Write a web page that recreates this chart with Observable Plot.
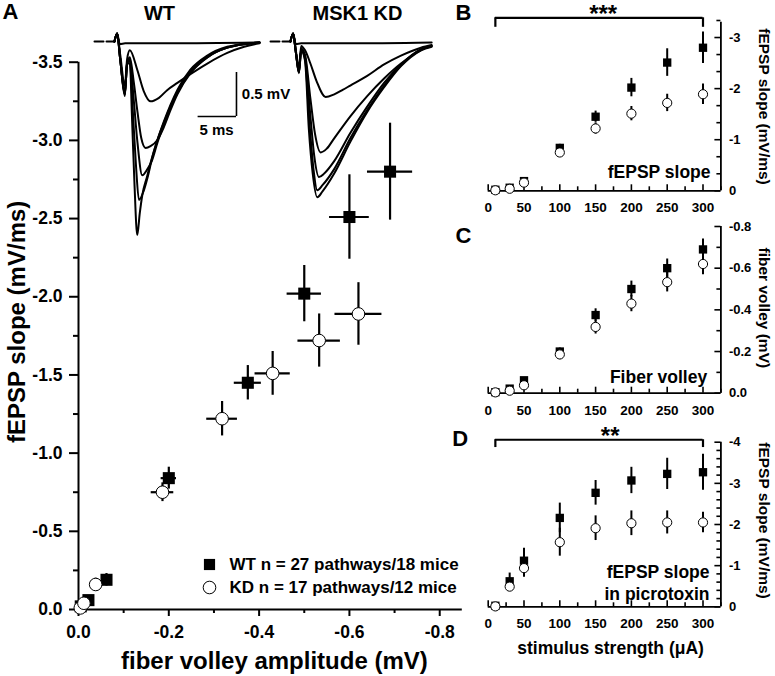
<!DOCTYPE html>
<html><head><meta charset="utf-8">
<script src="https://cdn.jsdelivr.net/npm/d3@7"></script>
<script src="https://cdn.jsdelivr.net/npm/@observablehq/plot@0.6"></script>
<style>
body{margin:0;background:#fff;}
#fig{position:relative;width:775px;height:676px;overflow:hidden;background:#fff;}
.pn{position:absolute;}
</style></head><body><div id="fig"></div>
<script>
// ---------- data ----------
const stimulus = [10, 30, 50, 100, 150, 200, 250, 300];
const slopeWT = [-0.02, -0.06, -0.19, -0.84, -1.45, -2.02, -2.51, -2.80];
const slopeWTsem = [0.01, 0.02, 0.04, 0.07, 0.11, 0.18, 0.27, 0.31];
const slopeKD = [-0.01, -0.04, -0.16, -0.75, -1.22, -1.51, -1.72, -1.89];
const slopeKDsem = [0.01, 0.02, 0.04, 0.06, 0.11, 0.14, 0.17, 0.20];
const fvWT = [-0.005, -0.022, -0.062, -0.20, -0.375, -0.50, -0.60, -0.69];
const fvWTsem = [0.003, 0.008, 0.010, 0.017, 0.030, 0.038, 0.044, 0.050];
const fvKD = [-0.004, -0.012, -0.038, -0.186, -0.318, -0.43, -0.533, -0.62];
const fvKDsem = [0.003, 0.006, 0.012, 0.025, 0.034, 0.039, 0.047, 0.052];
const ptxWT = [-0.025, -0.62, -1.12, -2.16, -2.77, -3.07, -3.23, -3.27];
const ptxWTsem = [0.02, 0.20, 0.30, 0.36, 0.30, 0.32, 0.38, 0.44];
const ptxKD = [-0.01, -0.49, -0.94, -1.57, -1.91, -2.03, -2.05, -2.05];
const ptxKDsem = [0.01, 0.08, 0.22, 0.34, 0.30, 0.30, 0.28, 0.25];

const legendLabels = ["WT n = 27 pathways/18 mice", "KD n = 17 pathways/12 mice"];
const aXTicks = [0, -0.2, -0.4, -0.6, -0.8];
const aXMinor = [-0.1, -0.3, -0.5, -0.7];
const aYTicks = [0, -0.5, -1.0, -1.5, -2.0, -2.5, -3.0, -3.5];
const aYMinor = [-0.25, -0.75, -1.25, -1.75, -2.25, -2.75, -3.25];
const stimTicks = [0, 50, 100, 150, 200, 250, 300];
const stimMinor = [25, 75, 125, 175, 225, 275, 325];
const bTicks = [0, -1, -2, -3];
const bMinor = [-1/3, -2/3, -4/3, -5/3, -7/3, -8/3, -10/3];
const cTicks = [0, -0.2, -0.4, -0.6, -0.8];
const cMinor = [-0.1, -0.3, -0.5, -0.7];
const dTicks = [0, -1, -2, -3, -4];
const dMinor = [-0.2,-0.4,-0.6,-0.8,-1.2,-1.4,-1.6,-1.8,-2.2,-2.4,-2.6,-2.8,-3.2,-3.4,-3.6,-3.8];
const sigB = {from: 10, to: 300, label: "***"};
const sigD = {from: 10, to: 300, label: "**"};

// example fEPSP traces (time ms, voltage mV)
const traceGroups = ["WT", "KD"];
const preStim = [[0, 0], [2.6, 0]];
const wtTraces = [
  [[2.6,0],[2.95,0.09],[3.3,-0.03],[4,-0.02],[10,-0.02],[21.5,-0.01]],
  [[2.6,0],[2.95,0.09],[3.35,-0.15],[3.95,-0.5],[4.25,-0.2],[4.6,-0.1],[5.6,-0.33],[6.4,-0.56],[7.3,-0.68],[8.4,-0.64],[9.5,-0.55],[10.8,-0.47],[12.5,-0.37],[14.7,-0.25],[17.3,-0.13],[19.5,-0.06],[21.5,-0.02]],
  [[2.6,0],[2.95,0.09],[3.35,-0.2],[3.95,-0.58],[4.25,-0.25],[4.6,-0.18],[5.1,-0.45],[5.6,-0.8],[6.1,-1.1],[6.66,-1.21],[7.3,-1.19],[8.2,-1.12],[9.0,-0.98],[9.9,-0.78],[10.8,-0.6],[12.5,-0.36],[14.7,-0.18],[17.3,-0.07],[21.5,-0.01]],
  [[2.6,0],[2.95,0.09],[3.35,-0.2],[3.95,-0.6],[4.25,-0.25],[4.6,-0.2],[5.1,-0.65],[5.6,-1.15],[6.22,-1.52],[6.9,-1.45],[7.5,-1.35],[8.2,-1.15],[9.0,-0.95],[9.9,-0.74],[10.8,-0.57],[12.5,-0.34],[14.7,-0.17],[17.3,-0.07],[21.5,-0.01]],
  [[2.6,0],[2.95,0.09],[3.35,-0.2],[3.95,-0.6],[4.25,-0.25],[4.6,-0.22],[5.0,-0.8],[5.4,-1.4],[5.79,-1.8],[6.4,-1.7],[6.9,-1.55],[7.5,-1.33],[8.2,-1.12],[9.0,-0.92],[9.9,-0.72],[10.8,-0.55],[12.5,-0.32],[14.7,-0.16],[17.3,-0.06],[21.5,-0.01]],
  [[2.6,0],[2.95,0.09],[3.35,-0.2],[3.95,-0.62],[4.25,-0.25],[4.6,-0.25],[4.9,-0.9],[5.2,-1.6],[5.57,-2.2],[5.9,-1.95],[6.22,-1.75],[6.9,-1.52],[7.3,-1.38],[8.2,-1.12],[9.05,-0.92],[9.9,-0.74],[11.2,-0.52],[12.5,-0.35],[14.7,-0.18],[17.3,-0.07],[19.1,-0.035],[21.5,-0.01]]
];
const kdTraces = [
  [[2.6,0],[2.95,0.09],[3.3,-0.03],[4,-0.02],[10,-0.02],[21,-0.01]],
  [[2.6,0],[2.95,0.09],[3.3,-0.1],[3.7,-0.3],[4.0,-0.05],[4.5,-0.1],[5.2,-0.25],[6.0,-0.45],[7.18,-0.63],[8.3,-0.6],[9.4,-0.55],[10.4,-0.5],[12.6,-0.39],[14.8,-0.26],[17.0,-0.16],[19.6,-0.07],[21.0,-0.04]],
  [[2.6,0],[2.95,0.09],[3.3,-0.12],[3.7,-0.33],[4.0,-0.08],[4.5,-0.15],[5.2,-0.65],[5.8,-1.05],[6.53,-1.26],[7.3,-1.22],[8.3,-1.1],[10.4,-0.85],[12.6,-0.62],[14.8,-0.42],[17.0,-0.25],[19.6,-0.1],[21,-0.06]],
  [[2.6,0],[2.95,0.09],[3.3,-0.12],[3.7,-0.35],[4.0,-0.1],[4.5,-0.18],[5.2,-0.85],[5.7,-1.3],[6.31,-1.54],[7.0,-1.5],[8.3,-1.36],[10.4,-1.04],[12.6,-0.74],[14.8,-0.47],[17,-0.26],[19.6,-0.09],[21,-0.05]],
  [[2.6,0],[2.95,0.09],[3.3,-0.12],[3.7,-0.35],[4.0,-0.1],[4.5,-0.2],[5.1,-0.95],[5.6,-1.45],[6.09,-1.69],[6.8,-1.63],[8.3,-1.45],[10.4,-1.1],[12.6,-0.78],[14.8,-0.5],[17,-0.27],[19.6,-0.09],[21,-0.05]],
  [[2.6,0],[2.95,0.09],[3.3,-0.12],[3.7,-0.36],[4.0,-0.1],[4.5,-0.22],[5.0,-1.0],[5.5,-1.5],[6.09,-1.77],[6.8,-1.7],[8.3,-1.5],[10.4,-1.14],[12.6,-0.8],[14.8,-0.52],[17,-0.28],[19.6,-0.1],[21,-0.05]]
];
const scaleBar = {ms: 5, mV: 0.5};

// ---------- helpers ----------
const fig = document.getElementById("fig");
const FONT = '"Liberation Sans", Arial, Helvetica, sans-serif';
const STYLE = `background:transparent;overflow:visible;font-family:${FONT};font-weight:bold;color:black;max-width:none;`;
function place(svg, left, top) {
  const d = document.createElement("div");
  d.className = "pn"; d.style.left = left + "px"; d.style.top = top + "px";
  d.appendChild(svg); fig.appendChild(d);
}
const rows = (xs, xe, ys, ye) => stimulus.map((s, i) => ({s, x: xs ? xs[i] : s, xe: xe ? xe[i] : 0, y: ys[i], ye: ye[i]}));

// ---------- panel A ----------
const aWT = rows(fvWT, fvWTsem, slopeWT, slopeWTsem);
const aKD = rows(fvKD, fvKDsem, slopeKD, slopeKDsem);
const fmt1 = d => d.toFixed(1);
const panelA = Plot.plot({
  width: 470, height: 676,
  marginLeft: 78, marginRight: 8.2, marginTop: 61.7, marginBottom: 67,
  x: {domain: [0, -0.85], axis: null},
  y: {domain: [0, -3.5], axis: null},
  style: STYLE,
  marks: [
    Plot.ruleX([0], {strokeWidth: 2}),
    Plot.ruleY([0], {strokeWidth: 2}),
    Plot.ruleY(aYTicks, {y: d => d, x1: 0, x2: 0, insetLeft: -9, strokeWidth: 2}),
    Plot.ruleY(aYMinor, {y: d => d, x1: 0, x2: 0, insetLeft: -5, strokeWidth: 2}),
    Plot.ruleX(aXTicks, {x: d => d, y1: 0, y2: 0, insetBottom: -7, strokeWidth: 2}),
    Plot.ruleX(aXMinor, {x: d => d, y1: 0, y2: 0, insetBottom: -4, strokeWidth: 2}),
    Plot.axisX({ticks: aXTicks, tickSize: 0, tickPadding: 16, tickFormat: fmt1, fontSize: 17.5, label: null}),
    Plot.axisY({ticks: aYTicks, tickSize: 0, tickPadding: 16, tickFormat: fmt1, fontSize: 17.5, label: null}),
    Plot.ruleX(aWT, {x: "x", y1: d => d.y - d.ye, y2: d => d.y + d.ye, strokeWidth: 2.2}),
    Plot.ruleY(aWT, {y: "y", x1: d => d.x - d.xe, x2: d => d.x + d.xe, strokeWidth: 2.2}),
    Plot.dot(aWT, {x: "x", y: "y", symbol: "square", r: 6.8, fill: "black"}),
    Plot.ruleX(aKD, {x: "x", y1: d => d.y - d.ye, y2: d => d.y + d.ye, strokeWidth: 2.2}),
    Plot.ruleY(aKD, {y: "y", x1: d => d.x - d.xe, x2: d => d.x + d.xe, strokeWidth: 2.2}),
    Plot.dot(aKD, {x: "x", y: "y", symbol: "circle", r: 6.3, fill: "white", stroke: "black", strokeWidth: 1}),
    // legend
    Plot.dot([legendLabels[0]], {frameAnchor: "bottom-left", dx: 131, dy: -45, symbol: "square", r: 6.3, fill: "black"}),
    Plot.dot([legendLabels[1]], {frameAnchor: "bottom-left", dx: 131, dy: -22, symbol: "circle", r: 6.3, fill: "white", stroke: "black", strokeWidth: 1}),
    Plot.text([legendLabels[0]], {frameAnchor: "bottom-left", dx: 151, dy: -45, textAnchor: "start", lineAnchor: "middle", fontSize: 17}),
    Plot.text([legendLabels[1]], {frameAnchor: "bottom-left", dx: 151, dy: -22, textAnchor: "start", lineAnchor: "middle", fontSize: 17}),
    // axis labels
    Plot.text(["fEPSP slope (mV/ms)"], {frameAnchor: "left", dx: -61, dy: -14, rotate: -90, textAnchor: "middle", lineAnchor: "middle", fontSize: 24}),
    Plot.text(["fiber volley amplitude (mV)"], {frameAnchor: "bottom", dx: 4, dy: 52, textAnchor: "middle", lineAnchor: "middle", fontSize: 24}),
    // titles
    Plot.text(["A"], {frameAnchor: "top-left", dx: -76, dy: -58.7, textAnchor: "start", lineAnchor: "top", fontSize: 22}),
    Plot.text(["WT"], {frameAnchor: "top-left", dx: 81, dy: -56.7, textAnchor: "middle", lineAnchor: "top", fontSize: 20}),
    Plot.text(["MSK1 KD"], {frameAnchor: "top-left", dx: 279, dy: -56.7, textAnchor: "middle", lineAnchor: "top", fontSize: 20})
  ]
});
place(panelA, 0, 0);

// ---------- inset traces ----------
const traceRows = [];
[["WT", wtTraces], ["KD", kdTraces]].forEach(([g, trs]) =>
  trs.forEach((tr, k) => tr.forEach(([t, v]) => traceRows.push({g, k, t, v}))));
const baseRows = [];
traceGroups.forEach(g => preStim.forEach(([t, v]) => baseRows.push({g, t, v})));
const sb = [{g: "WT"}];
const inset = Plot.plot({
  width: 341, height: 230,
  marginLeft: 0, marginRight: 0, marginTop: 0, marginBottom: 0,
  fx: {domain: traceGroups, paddingInner: 0.0625, paddingOuter: 0, axis: null, round: false},
  x: {domain: [0, 21.5], axis: null},
  y: {domain: [-2.432, 0.182], axis: null},
  style: STYLE,
  marks: [
    Plot.line(baseRows, {fx: "g", x: "t", y: "v", z: "g", stroke: "black", strokeWidth: 2, strokeDasharray: "9,3"}),
    Plot.line(traceRows, {fx: "g", x: "t", y: "v", z: "k", stroke: "black", strokeWidth: 2, curve: "monotone-x"}),
    Plot.ruleX(sb, {fx: "g", x: 18.5, y1: -0.352, y2: -0.352 - scaleBar.mV, strokeWidth: 1.6}),
    Plot.ruleY(sb, {fx: "g", y: -0.352 - scaleBar.mV, x1: 18.5 - scaleBar.ms, x2: 18.5, strokeWidth: 1.6}),
    Plot.text(sb, {fx: "g", x: 19.2, y: -0.60, text: () => `${scaleBar.mV} mV`, textAnchor: "start", fontSize: 15}),
    Plot.text(sb, {fx: "g", x: 15.9, y: -1.01, text: () => `${scaleBar.ms} ms`, fontSize: 15})
  ]
});
place(inset, 94, 25);

// ---------- panels B, C, D ----------
function stimPanel(o) {
  const wt = rows(null, null, o.wt, o.wtSem);
  const kd = rows(null, null, o.kd, o.kdSem);
  const marks = [
    Plot.ruleY([0], {strokeWidth: 1.8}),
    Plot.ruleX([325], {strokeWidth: 1.8}),
    Plot.ruleX(stimTicks, {x: d => d, y1: 0, y2: 0, insetTop: -6, strokeWidth: 1.6}),
    Plot.ruleX(stimMinor, {x: d => d, y1: 0, y2: 0, insetTop: -4, strokeWidth: 1.6}),
    Plot.ruleY(o.majors, {y: d => d, x1: 325, x2: 325, insetLeft: -6, strokeWidth: 1.6}),
    Plot.ruleY(o.minors, {y: d => d, x1: 325, x2: 325, insetLeft: -4, strokeWidth: 1.6}),
    Plot.axisX({ticks: stimTicks, tickSize: 0, tickPadding: 12, tickFormat: d => String(d), fontSize: 13.5, label: null}),
    Plot.axisY({anchor: "right", ticks: o.majors, tickSize: 0, tickPadding: 8, tickFormat: o.fmt, fontSize: 13, label: null}),
    Plot.ruleX(wt, {x: "s", y1: d => d.y - d.ye, y2: d => d.y + d.ye, strokeWidth: 2}),
    Plot.dot(wt, {x: "s", y: "y", symbol: "square", r: 4.7, fill: "black"}),
    Plot.ruleX(kd, {x: "s", y1: d => d.y - d.ye, y2: d => d.y + d.ye, strokeWidth: 2}),
    Plot.dot(kd, {x: "s", y: "y", symbol: "circle", r: 4.6, fill: "white", stroke: "black", strokeWidth: 1}),
    Plot.text([o.axisLabel], {frameAnchor: "right", dx: 42.6, dy: o.labelDy || 0, rotate: 90, textAnchor: "middle", lineAnchor: "middle", fontSize: 15.5}),
    Plot.text([o.inner], {frameAnchor: "bottom-right", dx: o.innerDx, dy: o.innerDy, textAnchor: "end", lineAnchor: "middle", lineHeight: 1.3, fontSize: 17.5}),
    Plot.text([o.letter], {frameAnchor: "top-left", dx: o.letterDx, dy: o.letterDy, textAnchor: "start", lineAnchor: "top", fontSize: 22})
  ];
  if (o.sig) {
    const s = o.sig;
    marks.push(
      Plot.ruleY([s], {x1: "from", x2: "to", y: o.sigY, strokeWidth: 2.2}),
      Plot.ruleX([s.from, s.to], {x: d => d, y1: o.sigY, y2: o.sigDrop, strokeWidth: 2.2}),
      Plot.text([s], {x: d => (d.from + d.to) / 2, y: o.sigY, text: "label", dx: o.sigDx, dy: -3, lineAnchor: "middle", fontSize: 24})
    );
  }
  if (o.xLabel) marks.push(Plot.text([o.xLabel], {frameAnchor: "bottom", dx: 6, dy: 41.7, textAnchor: "middle", lineAnchor: "middle", fontSize: 17.5}));
  return Plot.plot({
    width: 355, height: o.height,
    marginLeft: 67.7, marginRight: 54.6, marginTop: o.mt, marginBottom: o.mb,
    x: {domain: [0, 325], axis: null},
    y: {domain: [0, o.top], axis: null},
    style: STYLE,
    marks
  });
}
const fmt0 = d => String(d);
place(stimPanel({height: 220, mt: 21.7, mb: 29.7, top: -3.3, majors: bTicks, minors: bMinor, fmt: fmt0,
  wt: slopeWT, wtSem: slopeWTsem, kd: slopeKD, kdSem: slopeKDsem,
  axisLabel: "fEPSP slope (mV/ms)", inner: "fEPSP slope", innerDx: -10.4, innerDy: -20.3,
  letter: "B", letterDx: -32.7, letterDy: -18.2, sig: sigB, sigY: -3.386, sigDrop: -3.2, sigDx: 4}), 420, 0);
place(stimPanel({height: 210, mt: 16, mb: 27.3, top: -0.8, majors: cTicks, minors: cMinor, fmt: fmt1,
  wt: fvWT, wtSem: fvWTsem, kd: fvKD, kdSem: fvKDsem,
  axisLabel: "fiber volley (mV)", labelDy: -2, inner: "Fiber volley", innerDx: -13.7, innerDy: -17.7,
  letter: "C", letterDx: -32.7, letterDy: 0.7}), 420, 210);
place(stimPanel({height: 256, mt: 21.7, mb: 69.7, top: -4, majors: dTicks, minors: dMinor, fmt: fmt0,
  wt: ptxWT, wtSem: ptxWTsem, kd: ptxKD, kdSem: ptxKDsem,
  axisLabel: "fEPSP slope (mV/ms)", labelDy: -4, inner: "fEPSP slope\nin picrotoxin", innerDx: -11.4, innerDy: -25,
  letter: "D", letterDx: -36, letterDy: -11.7, sig: sigD, sigY: -4.06, sigDrop: -3.87, sigDx: 11,
  xLabel: "stimulus strength (μA)"}), 420, 420);
</script>
</body></html>
